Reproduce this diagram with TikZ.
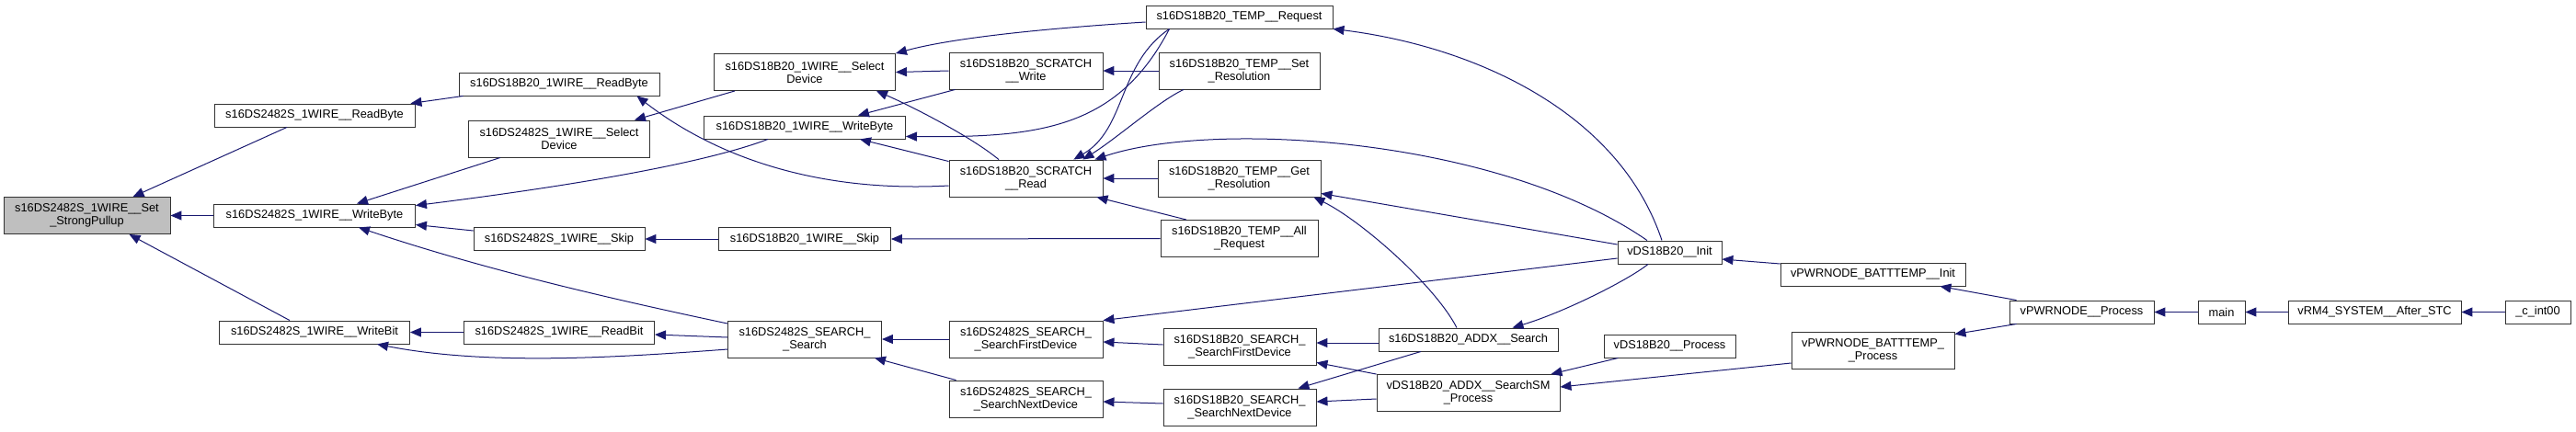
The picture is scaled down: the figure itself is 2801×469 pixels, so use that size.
\documentclass[tikz,border=0pt]{standalone}
\usepackage{fontspec}
\setmainfont{Liberation Sans}
\usepackage{xcolor}
\definecolor{dxblue}{RGB}{25,25,112}
\definecolor{dxgray}{RGB}{191,191,191}
\usetikzlibrary{arrows.meta,positioning}
\newcommand\fnfont{\fontsize{12.8}{14}\selectfont}
\tikzset{
  fn/.style={draw=black!80, fill=#1, font=\fnfont, line width=0.9pt,
             minimum height=25pt, inner sep=0pt, align=center},
  fn/.default=white,
  fntwo/.style={fn=#1, minimum height=40pt},
  fntwo/.default=white,
  call/.style={-{Triangle[length=12pt,width=10pt]}, draw=dxblue, line width=1pt},
}

\begin{document}
\begin{tikzpicture}[x=1pt, y=-1pt]
\useasboundingbox (0,0) rectangle (2801,469);

% Function of interest
\node[fntwo=dxgray, minimum width=181pt] (setsp) at (94.5,234.5) {s16DS2482S\_1WIRE\_\_Set\\\_StrongPullup};

% Direct callers
\node[fn, minimum width=218pt] (rdbyte) at (342,125.5) {s16DS2482S\_1WIRE\_\_ReadByte};
\node[fn, minimum width=219pt] (wrbyte) at (342,234.5) {s16DS2482S\_1WIRE\_\_WriteByte};
\node[fn, minimum width=207pt] (wrbit) at (342,361.5) {s16DS2482S\_1WIRE\_\_WriteBit};

% Level 2
\node[fn, minimum width=218pt] (dsrdbyte) at (608,91.5) {s16DS18B20\_1WIRE\_\_ReadByte};
\node[fntwo, minimum width=197pt] (seldev) at (608,151) {s16DS2482S\_1WIRE\_\_Select\\Device};
\node[fn, minimum width=186pt] (skip) at (608,260) {s16DS2482S\_1WIRE\_\_Skip};
\node[fn, minimum width=207pt] (rdbit) at (608,361.5) {s16DS2482S\_1WIRE\_\_ReadBit};

% Level 3
\node[fntwo, minimum width=197pt] (dsseldev) at (875,78.5) {s16DS18B20\_1WIRE\_\_Select\\Device};
\node[fn, minimum width=219pt] (dswrbyte) at (875,138.5) {s16DS18B20\_1WIRE\_\_WriteByte};
\node[fn, minimum width=187pt] (dsskip) at (875,260) {s16DS18B20\_1WIRE\_\_Skip};
\node[fntwo, minimum width=167pt] (search) at (875,369) {s16DS2482S\_SEARCH\_\\\_Search};

% Level 4
\node[fntwo, minimum width=167pt] (scrwrite) at (1115.5,77) {s16DS18B20\_SCRATCH\\\_\_Write};
\node[fntwo, minimum width=167pt] (scrread) at (1115.5,194) {s16DS18B20\_SCRATCH\\\_\_Read};
\node[fntwo, minimum width=167pt] (srchfirst) at (1115.5,369) {s16DS2482S\_SEARCH\_\\\_SearchFirstDevice};
\node[fntwo, minimum width=167pt] (srchnext) at (1115.5,434) {s16DS2482S\_SEARCH\_\\\_SearchNextDevice};

% Level 5
\node[fn, minimum width=203pt] (tempreq) at (1347.5,18.5) {s16DS18B20\_TEMP\_\_Request};
\node[fntwo, minimum width=175pt] (tempset) at (1347.5,77) {s16DS18B20\_TEMP\_\_Set\\\_Resolution};
\node[fntwo, minimum width=177pt] (tempget) at (1347.5,194) {s16DS18B20\_TEMP\_\_Get\\\_Resolution};
\node[fntwo, minimum width=171pt] (tempall) at (1347.5,259.5) {s16DS18B20\_TEMP\_\_All\\\_Request};
\node[fntwo, minimum width=166pt] (dsfirst) at (1348,377) {s16DS18B20\_SEARCH\_\\\_SearchFirstDevice};
\node[fntwo, minimum width=166pt] (dsnext) at (1348,443) {s16DS18B20\_SEARCH\_\\\_SearchNextDevice};

% Level 6
\node[fn, minimum width=113pt] (init) at (1815.5,274.5) {vDS18B20\_\_Init};
\node[fn, minimum width=195pt] (addx) at (1596.5,369.5) {s16DS18B20\_ADDX\_\_Search};
\node[fntwo, minimum width=199pt] (sm) at (1596.5,427.5) {vDS18B20\_ADDX\_\_SearchSM\\\_Process};
\node[fn, minimum width=143pt] (dsproc) at (1815.5,376.5) {vDS18B20\_\_Process};

% Up to the reset vector
\node[fn, minimum width=201pt] (btinit) at (2036.5,298.5) {vPWRNODE\_BATTTEMP\_\_Init};
\node[fntwo, minimum width=177pt] (btproc) at (2036.5,381) {vPWRNODE\_BATTTEMP\_\\\_Process};
\node[fn, minimum width=157pt] (pwrproc) at (2263.5,339.5) {vPWRNODE\_\_Process};
\node[fn, minimum width=51pt] (main) at (2415.5,339.5) {main};
\node[fn, minimum width=188pt] (vrm4) at (2582,339.5) {vRM4\_SYSTEM\_\_After\_STC};
\node[fn, minimum width=71pt] (cint) at (2759.5,339.5) {\_c\_int00};

% Calls into the function of interest
\draw[call] ([xshift=-30pt]rdbyte.south) -- ([xshift=50pt]setsp.north);
\draw[call] (wrbyte.west) -- (setsp.east);
\draw[call] ([xshift=-27pt]wrbit.north) -- ([xshift=46pt]setsp.south);

% Level 2 calls
\draw[call] ([xshift=5pt]dsrdbyte.south west) -- ([xshift=-5pt]rdbyte.north east);
\draw[call] ([xshift=35pt]seldev.south west) -- ([xshift=46pt]wrbyte.north);
\draw[call] ([xshift=-40pt]dswrbyte.south) .. controls (760,180) and (600,205) .. ([yshift=-2pt]wrbyte.north east);
\draw[call] ([yshift=9pt]skip.west) -- ([yshift=-10pt]wrbyte.east);
\draw[call] ([yshift=17pt]search.west) .. controls (654,323) and (523,292) .. ([xshift=48pt]wrbyte.south);
\draw[call] (rdbit.west) -- (wrbit.east);
\draw[call] ([yshift=-11pt]search.west) .. controls (671,389) and (530,398) .. ([xshift=68pt]wrbit.south);
\draw[call] ([yshift=2pt]search.west) -- ([yshift=-2.5pt]rdbit.east);

% Level 3 calls
\draw[call] ([xshift=-76pt]dsseldev.south) -- ([xshift=-17pt]seldev.north east);
\draw[call] ([yshift=-8pt]scrread.west) .. controls (850,212) and (745,145) .. ([xshift=-25pt]dsrdbyte.south east);
\draw[call] (dsskip.west) -- (skip.east);

% Level 4 calls
\draw[call] (scrwrite.west) -- (dsseldev.east);
\draw[call] ([xshift=7pt]scrwrite.south west) -- ([xshift=-52pt]dswrbyte.north east);
\draw[call] ([xshift=-29.5pt]scrread.north) .. controls (1055,148) and (990,115) .. ([xshift=78pt]dsseldev.south);
\draw[call] ([yshift=-2pt]scrread.north west) -- ([xshift=-50pt]dswrbyte.south east);
\draw[call] (srchfirst.west) -- (search.east);
\draw[call] ([xshift=8pt]srchnext.north west) -- ([xshift=-8pt]search.south east);

% Level 5 calls
\draw[call] ([yshift=-5.5pt]tempreq.west) .. controls (1150,30) and (1040,40) .. (dsseldev.north east);
\draw[call] ([xshift=-76pt]tempreq.south) .. controls (1215,140) and (1130,150) .. ([yshift=3pt]dswrbyte.south east);
\draw[call] ([xshift=-76pt]tempreq.south) .. controls (1215,70) and (1225,140) .. ([xshift=-32pt]scrread.north east);
\draw[call] (tempset.west) -- (scrwrite.east);
\draw[call] ([xshift=-60.5pt]tempset.south) .. controls (1260,110) and (1215,150) .. ([xshift=-22pt]scrread.north east);
\draw[call] (tempget.west) -- (scrread.east);
\draw[call] ([xshift=-57.5pt]tempall.north) -- ([xshift=-7pt]scrread.south east);
\draw[call] (tempall.west) -- (dsskip.east);
\draw[call] ([yshift=2pt]dsfirst.west) -- ([yshift=-3pt]srchfirst.east);
\draw[call] ([yshift=4pt]dsnext.west) -- ([yshift=-3pt]srchnext.east);

% Level 6 calls
\draw[call] ([yshift=-6.5pt]init.west) -- (srchfirst.north east);
\draw[call] ([xshift=-24.5pt]init.north) .. controls (1630,150) and (1320,130) .. ([xshift=-9pt]scrread.north east);
\draw[call] ([xshift=-8.5pt]init.north) .. controls (1760,120) and (1600,50) .. (tempreq.south east);
\draw[call] ([yshift=8.5pt]init.west) -- ([yshift=4pt]tempget.south east);
\draw[call] ([xshift=-23.5pt]init.south) .. controls (1770,305) and (1700,340) .. ([xshift=48pt]addx.north);
\draw[call] ([xshift=-12.5pt]addx.north) .. controls (1560,310) and (1480,240) .. ([xshift=-8pt]tempget.south east);
\draw[call] ([yshift=-3.5pt]addx.west) -- ([yshift=4pt]dsfirst.east);
\draw[call] ([xshift=-51.5pt]addx.south) -- ([xshift=-20pt]dsnext.north east);
\draw[call] (sm.north west) -- ([yshift=3pt]dsfirst.south east);
\draw[call] ([yshift=-6.5pt]sm.west) -- ([yshift=6pt]dsnext.east);
\draw[call] ([xshift=16pt]dsproc.south west) -- ([xshift=-10pt]sm.north east);

% Top of the chain
\draw[call] ([yshift=-14pt]btproc.west) -- ([yshift=6.5pt]sm.east);
\draw[call] ([yshift=11.5pt]btinit.west) -- ([yshift=-7.5pt]init.east);
\draw[call] ([xshift=8pt]pwrproc.north west) -- ([xshift=-28pt]btinit.south east);
\draw[call] ([xshift=8pt]pwrproc.south west) -- ([yshift=-3pt]btproc.north east);
\draw[call] (main.west) -- (pwrproc.east);
\draw[call] (vrm4.west) -- (main.east);
\draw[call] (cint.west) -- (vrm4.east);

\end{tikzpicture}
\end{document}
